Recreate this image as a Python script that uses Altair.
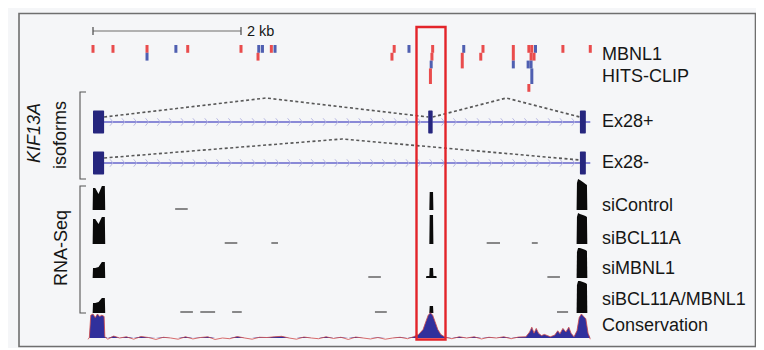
import altair as alt
import pandas as pd
import numpy as np

# ---------------- data ----------------
scale_bar_kb = 2.0

# MBNL1 HITS-CLIP tags: position (kb), stack row, rows spanned, strand colour
clip_kb = [0.00, 0.27, 0.73, 0.73, 1.12, 1.28, 2.00, 2.24, 2.29, 2.23, 2.41, 2.46,
           4.07, 4.04, 4.27, 4.59, 4.58, 4.57, 4.56, 5.01, 4.99, 5.27, 5.24, 5.68, 5.68,
           5.89, 5.93, 5.98, 5.92, 5.96, 5.88, 5.92, 5.93, 5.89, 6.35, 6.72]
clip_row = [0, 0, 0, 1, 0, 0, 0, 0, 0, 1, 0, 0,
            0, 1, 0, 0, 1, 2, 3, 0, 1, 0, 1, 0, 2,
            0, 0, 0, 1, 1, 2, 2, 3, 5, 0, 0]
clip_len = [1, 1, 1, 1, 1, 1, 1, 1, 1, 1, 1, 1,
            1, 1, 1, 1, 1, 1, 2, 1, 2, 1, 1, 2, 1,
            1, 1, 1, 1, 1, 1, 1, 2, 1, 1, 1]
clip_strand = ["r", "r", "r", "b", "b", "r", "r", "b", "b", "r", "r", "b",
               "r", "r", "b", "r", "r", "b", "r", "b", "r", "r", "r", "r", "b",
               "r", "r", "b", "r", "r", "b", "b", "b", "r", "r", "r"]

# KIF13A gene models (kb)
gene_start, gene_end = 0.0, 6.72
exons_plus = [(0.0, 0.15), (4.53, 4.59), (6.58, 6.66)]
exons_minus = [(0.0, 0.15), (6.58, 6.66)]
junctions_plus = [(0.15, 4.53), (4.59, 6.58)]
junctions_minus = [(0.15, 6.58)]

# RNA-Seq coverage (read depth, arbitrary units) at exon blocks
samples = ["siControl", "siBCL11A", "siMBNL1", "siBCL11A/MBNL1"]
first_kb = [-0.005, 0.0, 0.03, 0.075, 0.12, 0.16, 0.165]
first_cov = {
    "siControl":      [0, 22, 22, 16, 24, 24, 0],
    "siBCL11A":       [0, 25, 25, 20, 27, 27, 0],
    "siMBNL1":        [0, 10, 10, 11, 16, 16, 0],
    "siBCL11A/MBNL1": [0, 10, 10, 11, 15, 15, 0],
}
mid_kb = [4.50, 4.505, 4.545, 4.55, 4.595, 4.60, 4.64, 4.645]
mid_cov = {
    "siControl":      [0, 0, 0, 18, 18, 0, 0, 0],
    "siBCL11A":       [0, 0, 0, 29, 29, 0, 0, 0],
    "siMBNL1":        [0, 2, 2, 10, 10, 2, 2, 0],
    "siBCL11A/MBNL1": [0, 0, 0, 7, 7, 0, 0, 0],
}
last_kb = [6.535, 6.54, 6.555, 6.58, 6.62, 6.655, 6.675, 6.68]
last_cov = {
    "siControl":      [0, 27, 31, 30, 28, 26, 25, 0],
    "siBCL11A":       [0, 27, 31, 30, 29, 28, 27, 0],
    "siMBNL1":        [0, 26, 30, 30, 29, 28, 27, 0],
    "siBCL11A/MBNL1": [0, 28, 32, 32, 31, 30, 29, 0],
}
# isolated single reads (start kb, end kb)
reads = {
    "siControl":      [(1.11, 1.28)],
    "siBCL11A":       [(1.78, 1.95), (2.41, 2.50), (5.32, 5.50), (5.93, 6.01)],
    "siMBNL1":        [(3.72, 3.89), (6.14, 6.31)],
    "siBCL11A/MBNL1": [(1.18, 1.35), (1.45, 1.65), (1.88, 2.01), (3.81, 3.97), (6.27, 6.42)],
}

# Conservation score
cons_kb = [-0.07, -0.05, -0.03, 0.0, 0.03, 0.06, 0.09, 0.12, 0.15, 0.16, 0.2, 0.28, 0.36, 0.45,
           0.55, 0.65, 0.75, 0.85, 0.95, 1.05, 1.15, 1.25, 1.35, 1.45, 1.55, 1.65, 1.75, 1.85,
           1.95, 2.05, 2.15, 2.25, 2.35, 2.45, 2.55, 2.65, 2.75, 2.85, 2.95, 3.05, 3.15, 3.25,
           3.35, 3.45, 3.55, 3.65, 3.75, 3.85, 3.95, 4.05, 4.15, 4.25, 4.33, 4.40, 4.46, 4.50,
           4.53, 4.56, 4.59, 4.62, 4.66, 4.70, 4.76, 4.85, 4.95, 5.05, 5.15, 5.25, 5.35, 5.45,
           5.55, 5.65, 5.75, 5.85, 5.90, 5.93, 5.96, 5.99, 6.02, 6.06, 6.10, 6.14, 6.18, 6.24,
           6.28, 6.31, 6.35, 6.39, 6.43, 6.46, 6.50, 6.54, 6.57, 6.60, 6.63, 6.66, 6.69, 6.72]
cons_score = [-0.05, 0.0, 0.95, 1.0, 0.85, 1.0, 0.9, 0.95, 0.9, 0.05, -0.05, 0.08, 0.0, 0.05,
              -0.05, 0.06, 0.02, -0.06, 0.03, 0.0, -0.05, 0.05, -0.04, 0.02, 0.05, -0.06, 0.0, -0.03,
              0.06, 0.0, -0.05, 0.03, 0.02, 0.05, 0.07, 0.0, -0.05, 0.04, 0.0, -0.03, 0.05, -0.02,
              0.03, -0.06, 0.04, 0.0, -0.04, 0.02, -0.05, 0.0, 0.03, -0.03, 0.05, 0.15, 0.35, 0.7,
              0.95, 1.05, 0.95, 0.7, 0.35, 0.15, 0.03, -0.03, 0.05, 0.0, 0.05, -0.04, 0.03, 0.0,
              0.05, -0.03, 0.04, 0.05, 0.25, 0.45, 0.2, 0.4, 0.2, 0.1, 0.15, 0.1, 0.05, 0.12,
              0.3, 0.18, 0.4, 0.25, 0.45, 0.2, 0.05, 0.3, 0.85, 1.0, 0.9, 0.8, 0.2, -0.05]

right_labels = ["MBNL1", "HITS-CLIP", "Ex28+", "Ex28-", "siControl", "siBCL11A",
                "siMBNL1", "siBCL11A/MBNL1", "Conservation"]

# ---------------- layout ----------------
PX0, PX_PER_KB = 93.0, 74.0


def kb(px):
    return (px - PX0) / PX_PER_KB


XD = [kb(8), kb(756)]
YD = [8, 348]
FONT = "Liberation Sans"
TXT = "#161616"

CLIP_TOP, CLIP_ROW = 45.0, 7.8
Y_PLUS, Y_MINUS, EXON_HALF = 122.0, 163.0, 11.5
BASE = {"siControl": 210.0, "siBCL11A": 244.0, "siMBNL1": 278.0, "siBCL11A/MBNL1": 313.0}
Y_CONS, CONS_H = 338.0, 24.0


def X(f="x"):
    return alt.X(f"{f}:Q", scale=alt.Scale(domain=XD, nice=False, zero=False), axis=None)


def Y(f="y"):
    return alt.Y(f"{f}:Q", scale=alt.Scale(domain=YD, reverse=True, nice=False, zero=False), axis=None)


layers = []

# outer frame
frame = pd.DataFrame({"x": [kb(19)], "x2": [kb(755.5)], "y": [13.5], "y2": [346.5]})
layers.append(alt.Chart(frame).mark_rect(fill="#ffffff", fillOpacity=0, stroke="#6f6f6f", strokeWidth=1.6)
              .encode(x=X(), x2="x2:Q", y=Y(), y2="y2:Q"))

# scale bar
sb = pd.DataFrame({"x": [0.0], "x2": [scale_bar_kb], "y": [31.0]})
layers.append(alt.Chart(sb).mark_rule(color="#9a9a9a", strokeWidth=1.3).encode(x=X(), x2="x2:Q", y=Y()))
sbt = pd.DataFrame({"x": [0.0, scale_bar_kb], "y": [27.0, 27.0], "y2": [35.0, 35.0]})
layers.append(alt.Chart(sbt).mark_rule(color="#555555", strokeWidth=1.3).encode(x=X(), y=Y(), y2="y2:Q"))
layers.append(alt.Chart(pd.DataFrame({"x": [scale_bar_kb + 0.08], "y": [31.5], "t": [f"{scale_bar_kb:g} kb"]}))
              .mark_text(align="left", baseline="middle", font=FONT, fontSize=14.5, color=TXT)
              .encode(x=X(), y=Y(), text="t:N"))

# HITS-CLIP tags
clip = pd.DataFrame({"x": clip_kb, "row": clip_row, "n": clip_len, "s": clip_strand})
clip["y"] = CLIP_TOP + clip["row"] * CLIP_ROW
clip["y2"] = clip["y"] + clip["n"] * CLIP_ROW
layers.append(alt.Chart(clip).mark_rule(strokeWidth=3, opacity=0.9).encode(
    x=X(), y=Y(), y2="y2:Q",
    color=alt.Color("s:N", scale=alt.Scale(domain=["r", "b"], range=["#e83a3a", "#3d4fa8"]), legend=None)))

# gene lines
gl = pd.DataFrame({"x": [gene_start, gene_start], "x2": [gene_end, gene_end], "y": [Y_PLUS, Y_MINUS]})
layers.append(alt.Chart(gl).mark_rule(color="#6666cc", strokeWidth=1.4).encode(x=X(), x2="x2:Q", y=Y()))

# strand chevrons
chev_x = np.arange(0.25, 6.5, 0.16)
chev = pd.DataFrame({"x": np.concatenate([chev_x, chev_x]),
                     "y": [Y_PLUS] * len(chev_x) + [Y_MINUS] * len(chev_x)})
layers.append(alt.Chart(chev).mark_point(shape="M-0.4,-1L0.4,0L-0.4,1", filled=False, size=55,
                                         color="#b3b3e2", strokeWidth=1, opacity=0.9)
              .encode(x=X(), y=Y()))

# splice junction arcs
arc_rows = []
for i, (a, b) in enumerate(junctions_plus):
    for xx, yy in [(a, Y_PLUS - 5), ((a + b) / 2, Y_PLUS - 24), (b, Y_PLUS - 5)]:
        arc_rows.append({"g": f"p{i}", "x": xx, "y": yy})
for i, (a, b) in enumerate(junctions_minus):
    for xx, yy in [(a, Y_MINUS - 5), ((a + b) / 2, Y_MINUS - 24), (b, Y_MINUS - 3)]:
        arc_rows.append({"g": f"m{i}", "x": xx, "y": yy})
layers.append(alt.Chart(pd.DataFrame(arc_rows)).mark_line(color="#585858", strokeWidth=1.6, strokeDash=[3, 2.5])
              .encode(x=X(), y=Y(), detail="g:N"))

# exons
ex_rows = [{"x": a, "x2": b, "y": Y_PLUS - EXON_HALF, "y2": Y_PLUS + EXON_HALF} for a, b in exons_plus]
ex_rows += [{"x": a, "x2": b, "y": Y_MINUS - EXON_HALF, "y2": Y_MINUS + EXON_HALF} for a, b in exons_minus]
layers.append(alt.Chart(pd.DataFrame(ex_rows)).mark_rect(color="#26267e", cornerRadius=1)
              .encode(x=X(), x2="x2:Q", y=Y(), y2="y2:Q"))

# RNA-Seq coverage
cov_rows = []
for s in samples:
    for blk, xs, cov in [("a", first_kb, first_cov), ("b", mid_kb, mid_cov), ("c", last_kb, last_cov)]:
        for xx, h in zip(xs, cov[s]):
            cov_rows.append({"g": s + blk, "x": xx, "y": BASE[s] - h, "y2": BASE[s]})
layers.append(alt.Chart(pd.DataFrame(cov_rows)).mark_area(color="#0a0a0a", interpolate="linear")
              .encode(x=X(), y=Y(), y2="y2:Q", detail="g:N"))

rd_rows = []
for s in samples:
    for a, b in reads[s]:
        rd_rows.append({"x": a, "x2": b, "y": BASE[s] - 1})
layers.append(alt.Chart(pd.DataFrame(rd_rows)).mark_rule(color="#6c6c6c", strokeWidth=1.6)
              .encode(x=X(), x2="x2:Q", y=Y()))

# conservation
cons = pd.DataFrame({"x": cons_kb, "s": cons_score})
cons["ya"] = Y_CONS - cons["s"].clip(lower=0) * CONS_H
cons["yl"] = Y_CONS - cons["s"] * CONS_H
cons["y2"] = Y_CONS
layers.append(alt.Chart(cons).mark_area(color="#30309c", interpolate="linear")
              .encode(x=X(), y=Y("ya"), y2="y2:Q"))
layers.append(alt.Chart(cons).mark_line(color="#d04848", strokeWidth=1, opacity=0.8)
              .encode(x=X(), y=Y("yl")))

# highlight box around the alternative exon
box = pd.DataFrame({"x": [kb(416.5)], "x2": [kb(445.5)], "y": [27.0], "y2": [339.5]})
layers.append(alt.Chart(box).mark_rect(fill="#ffffff", fillOpacity=0, stroke="#e3242a", strokeWidth=2.4)
              .encode(x=X(), x2="x2:Q", y=Y(), y2="y2:Q"))

# brackets
br_rows = []
for g, (t, b) in {"iso": (92, 179), "rna": (186, 313)}.items():
    for i, (xx, yy) in enumerate([(86, t), (80, t), (80, b), (86, b)]):
        br_rows.append({"g": g, "o": i, "x": kb(xx), "y": yy})
layers.append(alt.Chart(pd.DataFrame(br_rows)).mark_line(color="#555555", strokeWidth=1.1)
              .encode(x=X(), y=Y(), detail="g:N", order="o:Q"))

# right labels
lab_y = [55, 77, 122, 163, 206, 239, 269, 300, 326]
lab = pd.DataFrame({"x": [kb(602)] * len(right_labels), "y": lab_y, "t": right_labels})
layers.append(alt.Chart(lab).mark_text(align="left", baseline="middle", font=FONT, fontSize=18, color=TXT)
              .encode(x=X(), y=Y(), text="t:N"))

# left rotated labels
left = pd.DataFrame({"x": [kb(35)], "y": [133], "t": ["KIF13A"]})
layers.append(alt.Chart(left).mark_text(angle=270, align="center", baseline="middle", font=FONT,
                                        fontSize=18, fontStyle="italic", color=TXT)
              .encode(x=X(), y=Y(), text="t:N"))
left2 = pd.DataFrame({"x": [kb(61), kb(62)], "y": [135, 248], "t": ["isoforms", "RNA-Seq"]})
layers.append(alt.Chart(left2).mark_text(angle=270, align="center", baseline="middle", font=FONT,
                                         fontSize=18, color=TXT)
              .encode(x=X(), y=Y(), text="t:N"))

chart = (alt.layer(*layers)
         .properties(width=748, height=340, padding=0,
                     autosize=alt.AutoSizeParams(type="none"), background="#f5f6f8")
         .configure_view(stroke=None))

chart.save("out.html", embed_options={"renderer": "svg", "actions": False})
